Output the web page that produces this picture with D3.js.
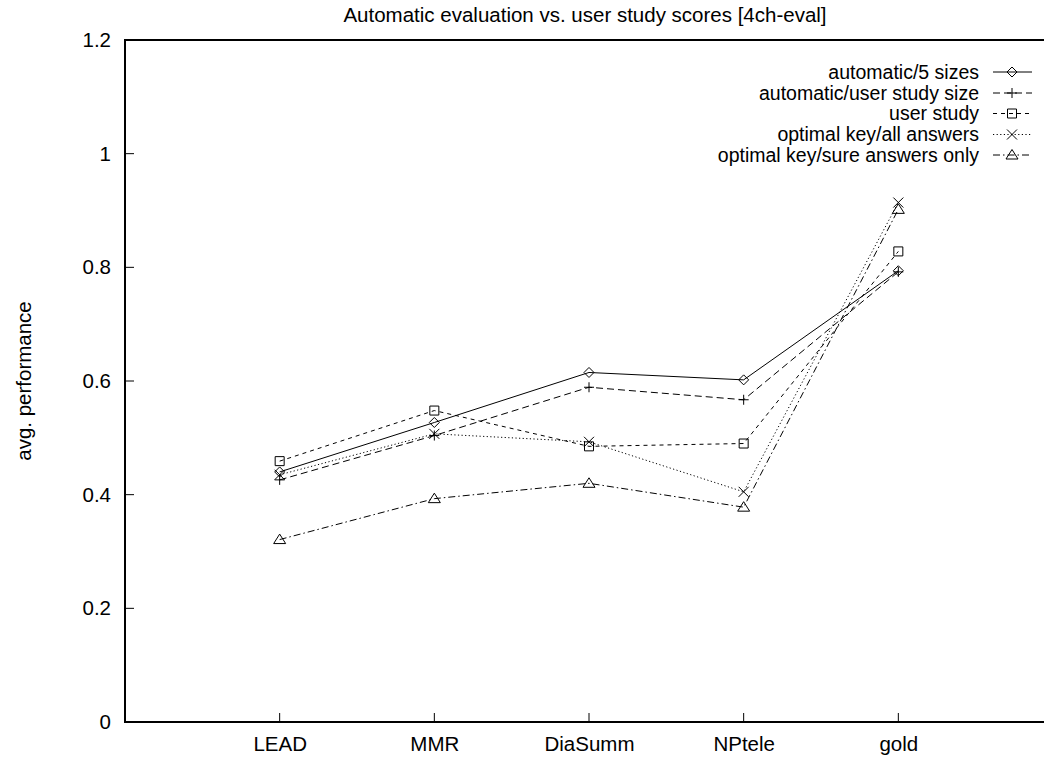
<!DOCTYPE html>
<html><head><meta charset="utf-8">
<script src="https://cdn.jsdelivr.net/npm/d3@7"></script>
<style>
html,body{margin:0;padding:0;background:#fff;}
text{font-family:"Liberation Sans",Arial,Helvetica,sans-serif;fill:#000;}
</style></head>
<body>
<svg id="chart" width="1044" height="757"></svg>
<script>
const title = "Automatic evaluation vs. user study scores [4ch-eval]";
const yLabel = "avg. performance";
const categories = ["LEAD", "MMR", "DiaSumm", "NPtele", "gold"];
const yTicks = [0, 0.2, 0.4, 0.6, 0.8, 1, 1.2];
const seriesNames = ["automatic/5 sizes", "automatic/user study size", "user study", "optimal key/all answers", "optimal key/sure answers only"];
const auto5 = [0.440, 0.527, 0.615, 0.602, 0.794];
const autoUser = [0.426, 0.504, 0.589, 0.567, 0.792];
const userStudy = [0.459, 0.548, 0.485, 0.490, 0.828];
const optAll = [0.435, 0.507, 0.493, 0.405, 0.914];
const optSure = [0.321, 0.393, 0.420, 0.378, 0.902];
const seriesValues = [auto5, autoUser, userStudy, optAll, optSure];
const markers = ["diamond", "plus", "square", "cross", "triangle"];
const dashes = [null, "7,4", "4,4", "1.2,2.4", "7,3,1.5,3"];

const svg = d3.select("#chart");
const x = d3.scaleLinear().domain([-1, 5]).range([125, 1053]);
const y = d3.scaleLinear().domain([0, 1.2]).range([722, 40]);
const FS = 20.5;
const LFS = 19.5;

// frame
const g = svg.append("g");
g.append("path")
  .attr("d", `M${x(5)},${y(1.2)}H${x(-1)}V${y(0)}H${x(5)}`)
  .attr("fill", "none").attr("stroke", "#000").attr("stroke-width", 2);

// y ticks
const yAxis = d3.axisLeft(y).tickValues(yTicks).tickSize(0).tickPadding(14).tickFormat(d3.format("~g"));
const ya = g.append("g").attr("transform", `translate(${x(-1)},0)`).call(yAxis);
ya.select(".domain").remove();
ya.selectAll("text").attr("font-size", FS).attr("font-family", null);
yTicks.filter(t => t > 0 && t < 1.2).forEach(t => {
  g.append("line").attr("x1", x(-1)).attr("x2", x(-1) + 9).attr("y1", y(t)).attr("y2", y(t)).attr("stroke", "#000").attr("stroke-width", 1);
  g.append("line").attr("x1", x(5)).attr("x2", x(5) - 9).attr("y1", y(t)).attr("y2", y(t)).attr("stroke", "#000").attr("stroke-width", 1);
});

// x ticks
const xAxis = d3.axisBottom(x).tickValues(d3.range(categories.length)).tickSize(0).tickPadding(14).tickFormat(i => categories[i]);
const xa = g.append("g").attr("transform", `translate(0,${y(0)})`).call(xAxis);
xa.select(".domain").remove();
xa.selectAll("text").attr("font-size", FS).attr("font-family", null);
categories.forEach((c, i) => {
  g.append("line").attr("x1", x(i)).attr("x2", x(i)).attr("y1", y(0)).attr("y2", y(0) - 9).attr("stroke", "#000").attr("stroke-width", 1);
});

// title & y label
svg.append("text").attr("x", 585).attr("y", 22).attr("text-anchor", "middle").attr("font-size", FS).text(title);
svg.append("text").attr("transform", `translate(31,${(y(0) + y(1.2)) / 2}) rotate(-90)`).attr("text-anchor", "middle").attr("font-size", FS).text(yLabel);

function marker(sel, type, cx, cy) {
  const s = 5;
  let d;
  if (type === "diamond") d = `M${cx},${cy - s}L${cx + s},${cy}L${cx},${cy + s}L${cx - s},${cy}Z`;
  else if (type === "plus") d = `M${cx - s},${cy}H${cx + s}M${cx},${cy - s}V${cy + s}`;
  else if (type === "square") d = `M${cx - 4.5},${cy - 4.5}h9v9h-9Z`;
  else if (type === "cross") d = `M${cx - s},${cy - s}L${cx + s},${cy + s}M${cx - s},${cy + s}L${cx + s},${cy - s}`;
  else d = `M${cx},${cy - 5.5}L${cx + 6},${cy + 4}L${cx - 6},${cy + 4}Z`;
  sel.append("path").attr("d", d).attr("fill", "none").attr("stroke", "#000").attr("stroke-width", 1);
}

const line = d3.line().x((d, i) => x(i)).y(d => y(d));
seriesValues.forEach((vals, k) => {
  g.append("path").datum(vals).attr("d", line).attr("fill", "none").attr("stroke", "#000")
    .attr("stroke-width", 1).attr("stroke-dasharray", dashes[k]);
  vals.forEach((v, i) => marker(g, markers[k], x(i), y(v)));
});

// legend
const legY = [72, 93, 113.5, 134.5, 155];
seriesNames.forEach((n, k) => {
  const ly = legY[k];
  svg.append("text").attr("x", 979).attr("y", ly).attr("dy", "0.35em").attr("text-anchor", "end").attr("font-size", LFS).text(n);
  svg.append("line").attr("x1", 993).attr("x2", 1032).attr("y1", ly).attr("y2", ly).attr("stroke", "#000").attr("stroke-width", 1).attr("stroke-dasharray", dashes[k]);
  marker(svg, markers[k], 1012, ly);
});
</script>
</body></html>
